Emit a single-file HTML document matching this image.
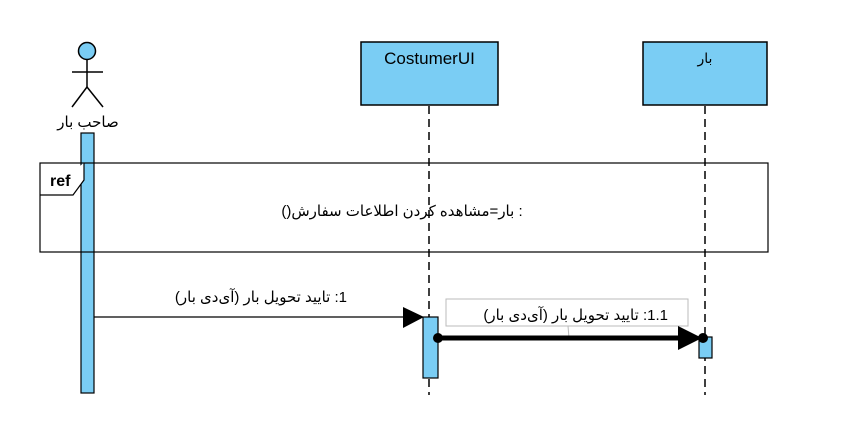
<!DOCTYPE html>
<html><head><meta charset="utf-8"><style>
html,body{margin:0;padding:0;background:#fff;}
svg{display:block;}
text{font-family:"Liberation Sans","DejaVu Sans",sans-serif;fill:#000;}
</style></head><body>
<svg width="847" height="433" viewBox="0 0 847 433" xmlns="http://www.w3.org/2000/svg">
<rect width="847" height="433" fill="#fff"/>
<circle cx="87" cy="51" r="8.5" fill="#7acdf4" stroke="#000" stroke-width="1.5"/>
<line x1="87" y1="60" x2="87" y2="88" stroke="#000" stroke-width="1.5"/>
<line x1="72" y1="72" x2="103" y2="72" stroke="#000" stroke-width="1.5"/>
<line x1="87" y1="87" x2="72" y2="107" stroke="#000" stroke-width="1.5"/>
<line x1="87" y1="87" x2="103" y2="107" stroke="#000" stroke-width="1.5"/>
<text x="88" y="127" font-size="15" text-anchor="middle" direction="rtl">صاحب بار</text>
<rect x="361" y="42" width="137" height="63" fill="#7acdf4" stroke="#000" stroke-width="1.5"/>
<text x="429.5" y="64" font-size="17" text-anchor="middle">CostumerUI</text>
<rect x="643" y="42" width="124" height="63" fill="#7acdf4" stroke="#000" stroke-width="1.5"/>
<text x="705" y="63" font-size="14" text-anchor="middle" direction="rtl">بار</text>
<line x1="429" y1="106" x2="429" y2="395" stroke="#000" stroke-width="1.5" stroke-dasharray="8,5"/>
<line x1="705" y1="106" x2="705" y2="395" stroke="#000" stroke-width="1.5" stroke-dasharray="8,5"/>
<rect x="81" y="133" width="13" height="260" fill="#7acdf4" stroke="#000" stroke-width="1.2"/>
<rect x="40" y="163" width="728" height="89" fill="none" stroke="#000" stroke-width="1.2"/>
<path d="M40 195 H73 L84 180 V163" fill="#fff" stroke="#000" stroke-width="1.2"/>
<text x="50" y="186" font-size="16" font-weight="bold">ref</text>
<text x="402" y="216" font-size="15" text-anchor="middle" direction="rtl">: بار=مشاهده کردن اطلاعات سفارش()</text>
<line x1="94" y1="317" x2="405" y2="317" stroke="#000" stroke-width="1.2"/>
<polygon points="403,307 424,317 403,328" fill="#000"/>
<text x="347" y="302" font-size="15" text-anchor="start" direction="rtl">1: تایید تحویل بار (آی‌دی بار)</text>
<rect x="423" y="317" width="15" height="61" fill="#7acdf4" stroke="#000" stroke-width="1.2"/>
<rect x="446" y="299" width="242" height="27" fill="#fff" stroke="#bbb" stroke-width="1"/>
<line x1="568" y1="326" x2="569" y2="338" stroke="#bbb" stroke-width="1"/>
<text x="668" y="320" font-size="15" text-anchor="start" direction="rtl">1.1: تایید تحویل بار (آی‌دی بار)</text>
<rect x="699" y="337" width="13" height="21" fill="#7acdf4" stroke="#000" stroke-width="1.2"/>
<line x1="438" y1="338" x2="682" y2="338" stroke="#000" stroke-width="5"/>
<polygon points="678,326 702,338 678,350" fill="#000"/>
<circle cx="438" cy="338" r="5" fill="#000"/>
<circle cx="703" cy="338" r="5" fill="#000"/>
</svg>
</body></html>
